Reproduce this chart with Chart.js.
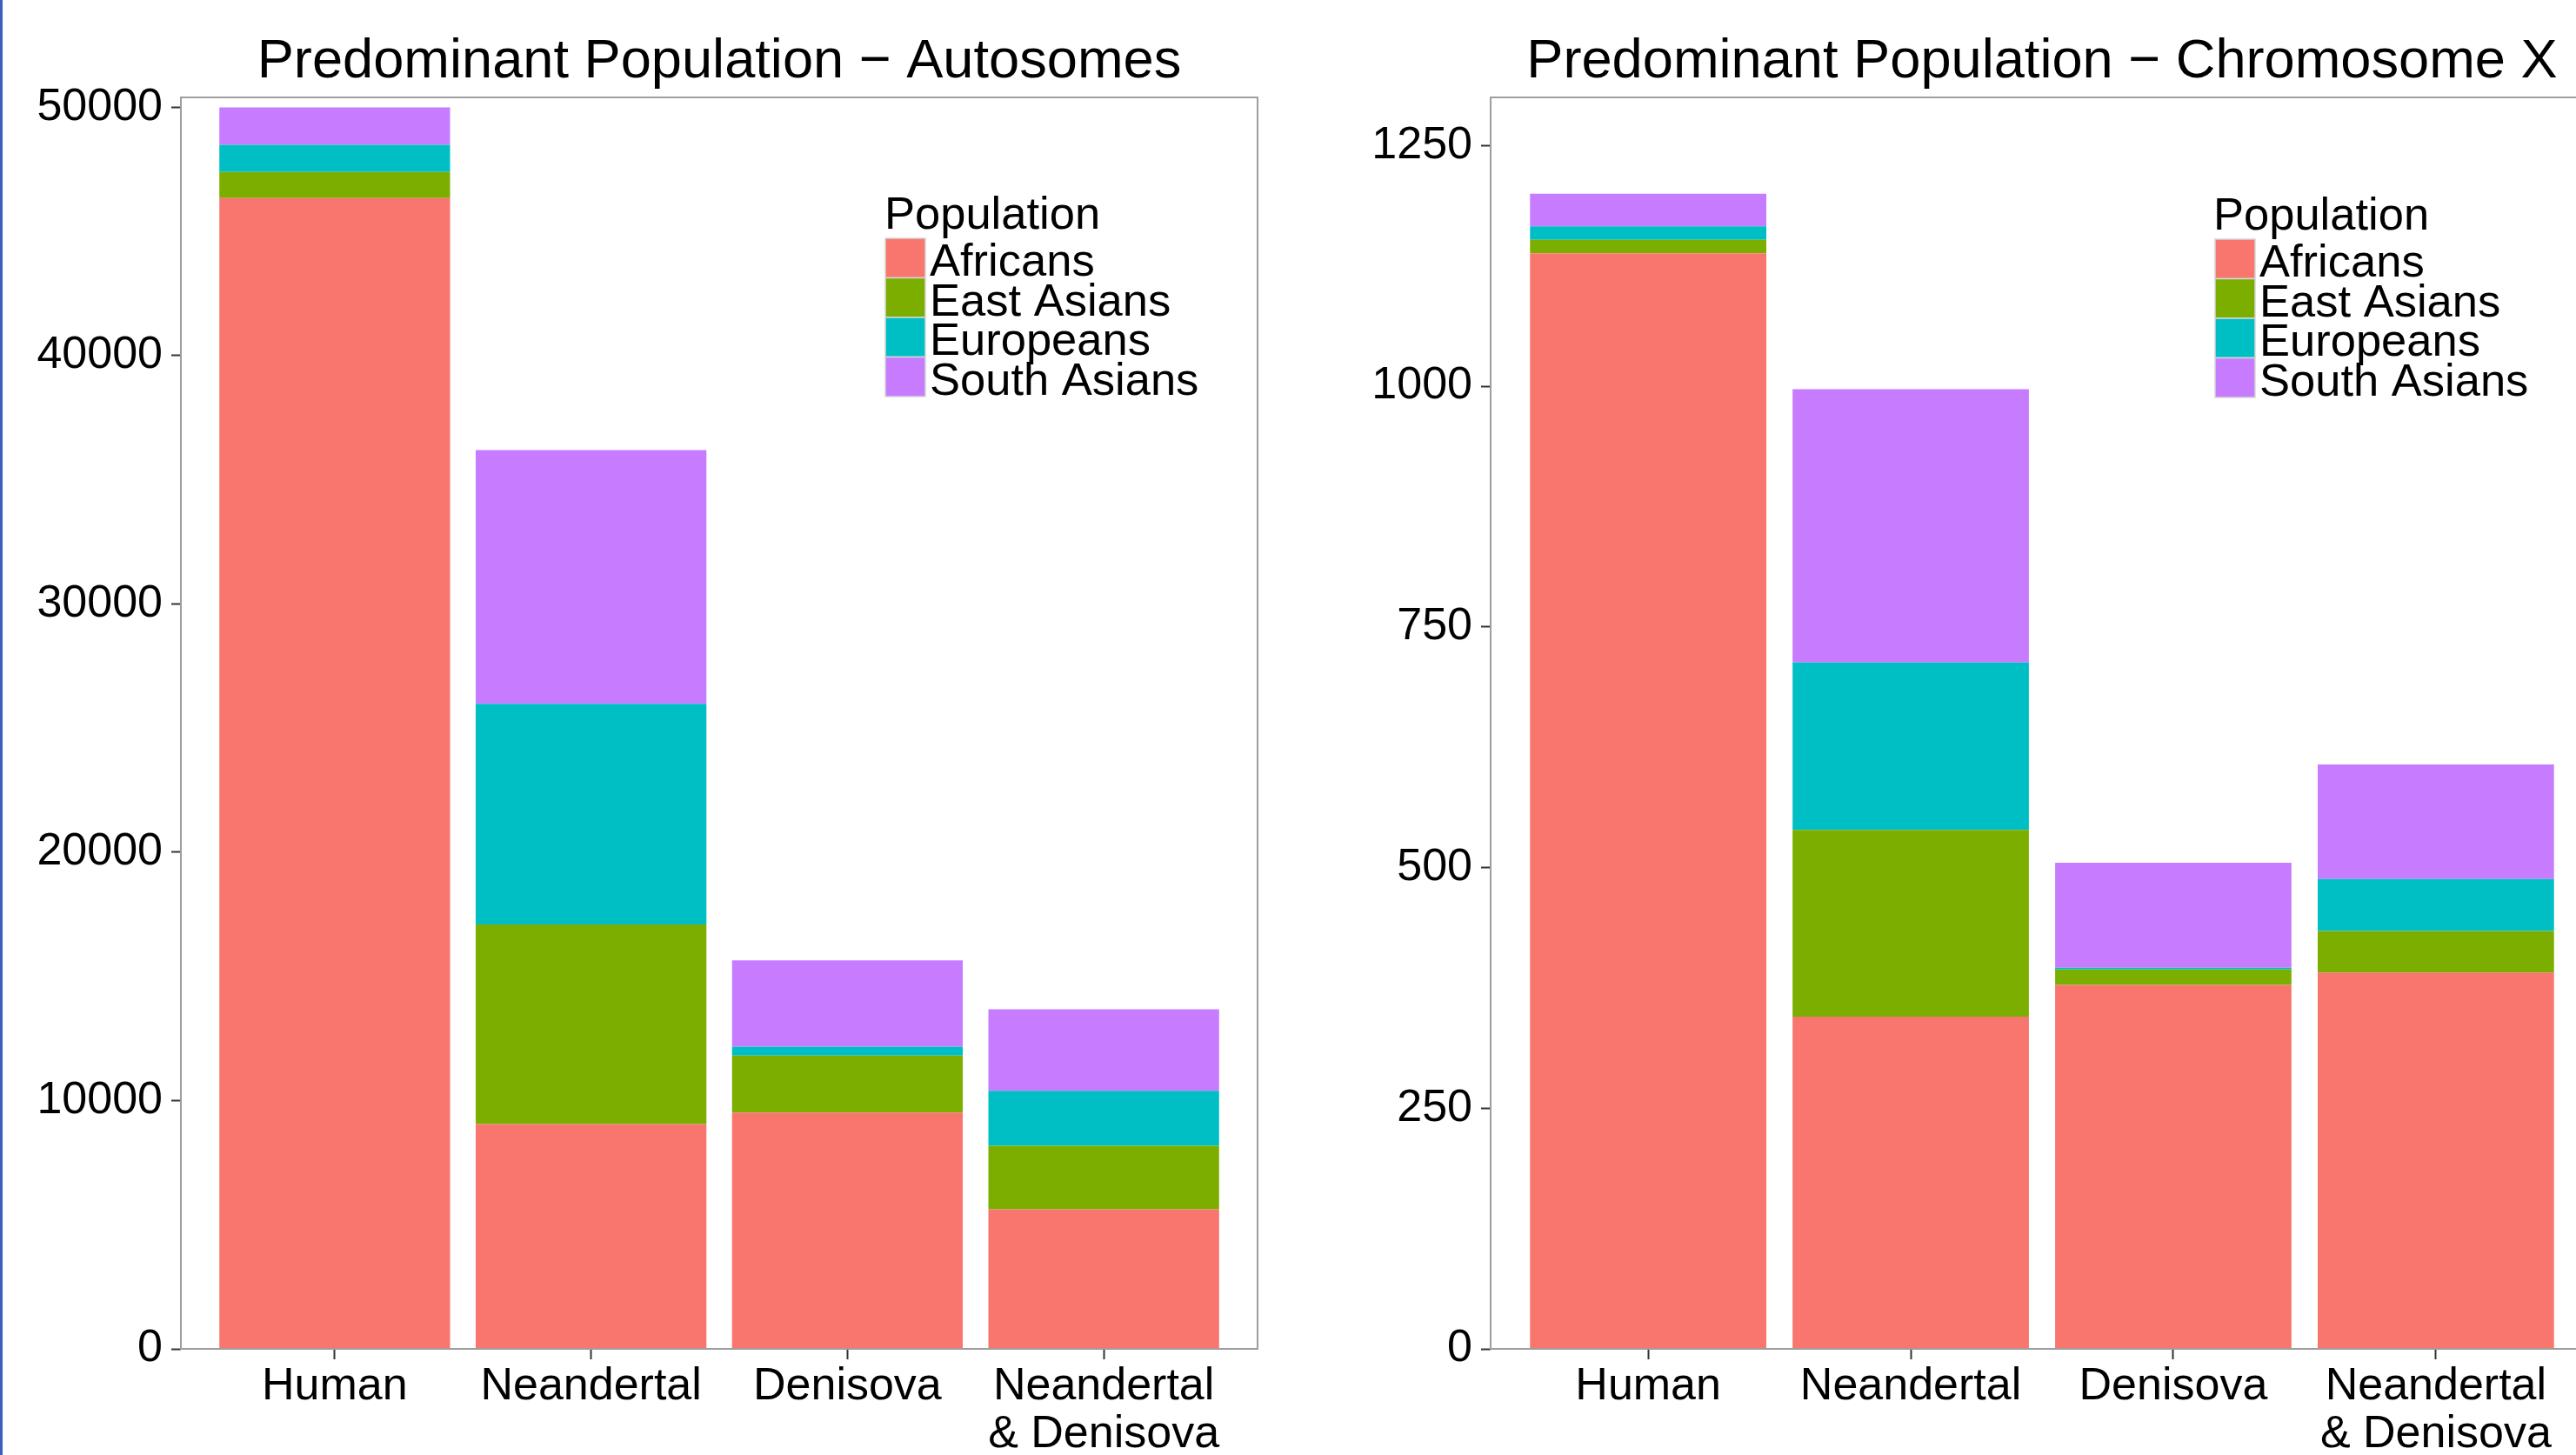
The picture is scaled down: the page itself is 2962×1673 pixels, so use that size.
<!DOCTYPE html>
<html>
<head>
<meta charset="utf-8">
<script src="https://cdn.jsdelivr.net/npm/chart.js@4/dist/chart.umd.min.js"></script>
<style>
  html, body { margin: 0; padding: 0; background: #fff; overflow: hidden; width: 2962px; height: 1673px; }
  .panel { position: absolute; top: 0; height: 1673px; }
  #autoWrap { left: 0; width: 1480px; }
  #chrXWrap { left: 1480px; width: 1540px; }
  #edge { position: absolute; left: 0; top: 0; width: 3px; height: 1673px; background: #3f5fbf; }
</style>
</head>
<body>
<div id="autoWrap" class="panel"><canvas id="autoChart" width="1480" height="1673"></canvas></div>
<div id="chrXWrap" class="panel"><canvas id="chrXChart" width="1540" height="1673"></canvas></div>
<div id="edge"></div>
<script>
// Categories and populations shared by both panels
const categories = ['Human', 'Neandertal', 'Denisova', 'Neandertal\n& Denisova'];
const populations = ['Africans', 'East Asians', 'Europeans', 'South Asians'];
const popColors = ['#F8766D', '#7CAE00', '#00BFC4', '#C77CFF'];

// Autosomes: counts per predominant population
const autoAfricans    = [46350, 9050, 9520, 5620];
const autoEastAsians  = [1050, 8040, 2290, 2560];
const autoEuropeans   = [1090, 8890, 360, 2210];
const autoSouthAsians = [1510, 10220, 3480, 3290];
const autoTicks = [0, 10000, 20000, 30000, 40000, 50000];
const autoMax = 50400;

// Chromosome X: counts per predominant population
const chrXAfricans    = [1138, 345, 378, 391];
const chrXEastAsians  = [14, 194, 16, 43];
const chrXEuropeans   = [14, 174, 2, 54];
const chrXSouthAsians = [34, 284, 109, 119];
const chrXTicks = [0, 250, 500, 750, 1000, 1250];
const chrXMax = 1300;

const FONT = '"Liberation Sans", Arial, Helvetica, sans-serif';

function makeDatasets(series) {
  return series.map((vals, i) => ({
    label: populations[i],
    data: vals.map((v, j) => ({ x: j + 1, y: v })),
    backgroundColor: popColors[i],
    borderWidth: 0,
    categoryPercentage: 0.9,
    barPercentage: 1.0
  }));
}

// Panel frame, title and in-panel legend
const panelDecor = {
  id: 'panelDecor',
  afterDraw(chart, args, opts) {
    const { ctx, chartArea: a } = chart;
    ctx.save();
    ctx.strokeStyle = '#9e9e9e';
    ctx.lineWidth = 2;
    ctx.strokeRect(a.left, a.top, a.right - a.left, a.bottom - a.top);

    ctx.fillStyle = '#000';
    ctx.textBaseline = 'alphabetic';
    ctx.textAlign = 'center';
    ctx.font = '63.2px ' + FONT;
    ctx.fillText(opts.title, (a.left + a.right) / 2, opts.titleY);

    const lg = opts.legend;
    ctx.textAlign = 'left';
    ctx.font = '52.5px ' + FONT;
    ctx.fillText(lg.title, lg.titleX, lg.titleY);
    const keyW = 46, keyH = 45.5;
    chart.data.datasets.forEach((ds, i) => {
      const ky = lg.keyY + i * keyH;
      ctx.fillStyle = ds.backgroundColor;
      ctx.fillRect(lg.keyX, ky, keyW, keyH);
      ctx.strokeStyle = '#d6d6d6';
      ctx.lineWidth = 1.5;
      ctx.strokeRect(lg.keyX, ky, keyW, keyH);
      ctx.fillStyle = '#000';
      ctx.fillText(ds.label, lg.labelX, ky + 43);
    });
    ctx.restore();
  }
};

function makeChart(canvasId, series, yMax, yTicks, axisWidth, padRight, title, legend) {
  return new Chart(document.getElementById(canvasId), {
    type: 'bar',
    data: { datasets: makeDatasets(series) },
    plugins: [panelDecor],
    options: {
      responsive: false,
      animation: false,
      layout: { padding: { top: 112, right: padRight, bottom: 0, left: 0 } },
      plugins: {
        legend: { display: false },
        title: { display: false },
        tooltip: { enabled: false },
        panelDecor: { title: title, titleY: 89, legend: legend }
      },
      scales: {
        x: {
          type: 'linear',
          min: 0.4,
          max: 4.6,
          stacked: true,
          offset: false,
          grid: { offset: false, drawOnChartArea: false, drawTicks: true, tickLength: 12, tickWidth: 2, tickColor: '#333' },
          border: { display: false },
          afterBuildTicks(scale) {
            scale.ticks = categories.map((c, i) => ({ value: i + 1 }));
          },
          ticks: {
            autoSkip: false,
            maxRotation: 0,
            minRotation: 0,
            padding: 4,
            color: '#000',
            font: { family: FONT, size: 52, lineHeight: 1.06 },
            callback: (v) => {
              const c = categories[Math.round(v) - 1];
              return c ? c.split('\n') : '';
            }
          },
          afterFit(scale) { scale.height = 122; }
        },
        y: {
          type: 'linear',
          min: 0,
          max: yMax,
          stacked: true,
          grid: { drawOnChartArea: false, drawTicks: true, tickLength: 11, tickWidth: 2, tickColor: '#333' },
          border: { display: false },
          afterBuildTicks(scale) {
            scale.ticks = yTicks.map(v => ({ value: v }));
          },
          ticks: {
            autoSkip: false,
            padding: 10,
            color: '#000',
            font: { family: FONT, size: 52 },
            callback: (v) => String(v)
          },
          afterFit(scale) { scale.width = axisWidth; }
        }
      }
    }
  });
}

makeChart('autoChart',
  [autoAfricans, autoEastAsians, autoEuropeans, autoSouthAsians],
  autoMax, autoTicks, 208, 34,
  'Predominant Population \u2212 Autosomes',
  { title: 'Population', titleX: 1017, titleY: 263, keyX: 1018, keyY: 274, labelX: 1069 });

makeChart('chrXChart',
  [chrXAfricans, chrXEastAsians, chrXEuropeans, chrXSouthAsians],
  chrXMax, chrXTicks, 234, 38,
  'Predominant Population \u2212 Chromosome X',
  { title: 'Population', titleX: 1065, titleY: 264, keyX: 1067, keyY: 275, labelX: 1118 });
</script>
</body>
</html>
